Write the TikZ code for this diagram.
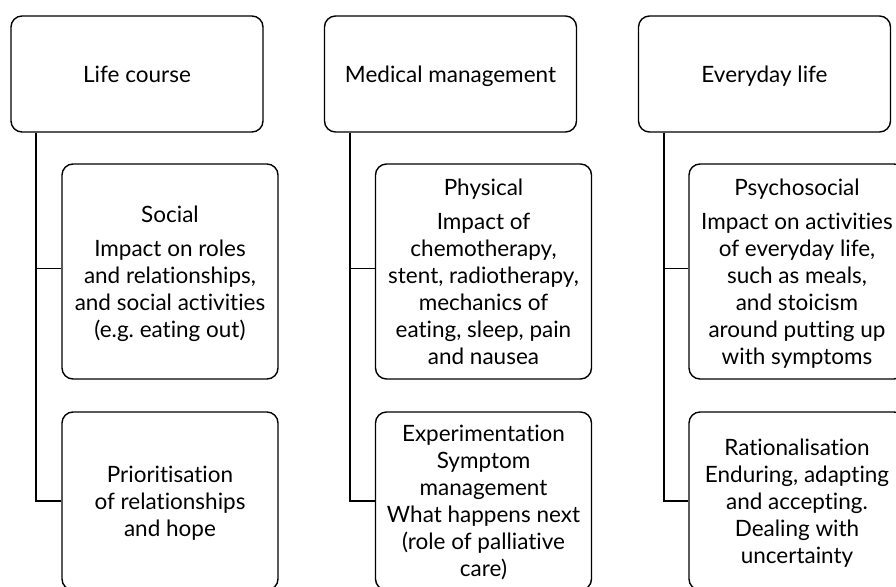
\documentclass[tikz,border=0pt]{standalone}
\usepackage{fontspec}
\setmainfont{Lato}[Ligatures=NoCommon]
\frenchspacing
\newcommand\topstrut{\rule{0pt}{25pt}}
\begin{document}
\begin{tikzpicture}[x=1pt,y=-1pt,
  box/.style={draw=black,line width=1.4pt,rounded corners=11pt,fill=white,
    inner sep=0pt,align=center,font=\fontsize{22.5}{27}\selectfont},
  topbox/.style={box,minimum width=252pt,minimum height=116pt},
  upbox/.style={box,minimum width=216pt,minimum height=215pt},
  lowbox/.style={box,minimum width=216pt,minimum height=178pt},
  link/.style={draw=black,line width=1.4pt}]
\useasboundingbox (0,0) rectangle (896,586);
\clip (0,0) rectangle (896,586);
\fill[white] (0,0) rectangle (896,586);
% column 1
\node[topbox] (t1) at (137,74) {\topstrut Life course\strut};
\node[upbox] (u1) at (170,271.5) {\topstrut Social\\[7pt]Impact on roles\\and relationships,\\and social activities\\(e.g. eating out)\strut};
\node[lowbox] (l1) at (170,501) {\topstrut Prioritisation\\of relationships\\and hope\strut};
% column 2
\node[topbox] (t2) at (450.5,74) {\topstrut Medical management\strut};
\node[upbox] (u2) at (483.5,271.5) {\topstrut Physical\\[7pt]Impact of\\chemotherapy,\\stent, radiotherapy,\\mechanics of\\eating, sleep, pain\\and nausea\strut};
\node[lowbox] (l2) at (483.5,501) {\topstrut Experimentation\\Symptom\\management\\What happens next\\(role of palliative\\care)\strut};
% column 3
\node[topbox] (t3) at (764.5,74) {\topstrut Everyday life\strut};
\node[upbox] (u3) at (797,271.5) {\topstrut Psychosocial\\[7pt]Impact on activities\\of everyday life,\\such as meals,\\and stoicism\\around putting up\\with symptoms\strut};
\node[lowbox] (l3) at (797,501) {\topstrut Rationalisation\\Enduring, adapting\\and accepting.\\Dealing with\\uncertainty\strut};
% connectors
\foreach \i/\xx in {1/36,2/350,3/664}{
  \coordinate (s\i) at (\xx,0);
  \draw[link] (t\i.south -| s\i) |- (l\i.west);
  \draw[link] (t\i.south -| s\i) |- ([yshift=3pt]u\i.west);
}
\end{tikzpicture}
\end{document}
